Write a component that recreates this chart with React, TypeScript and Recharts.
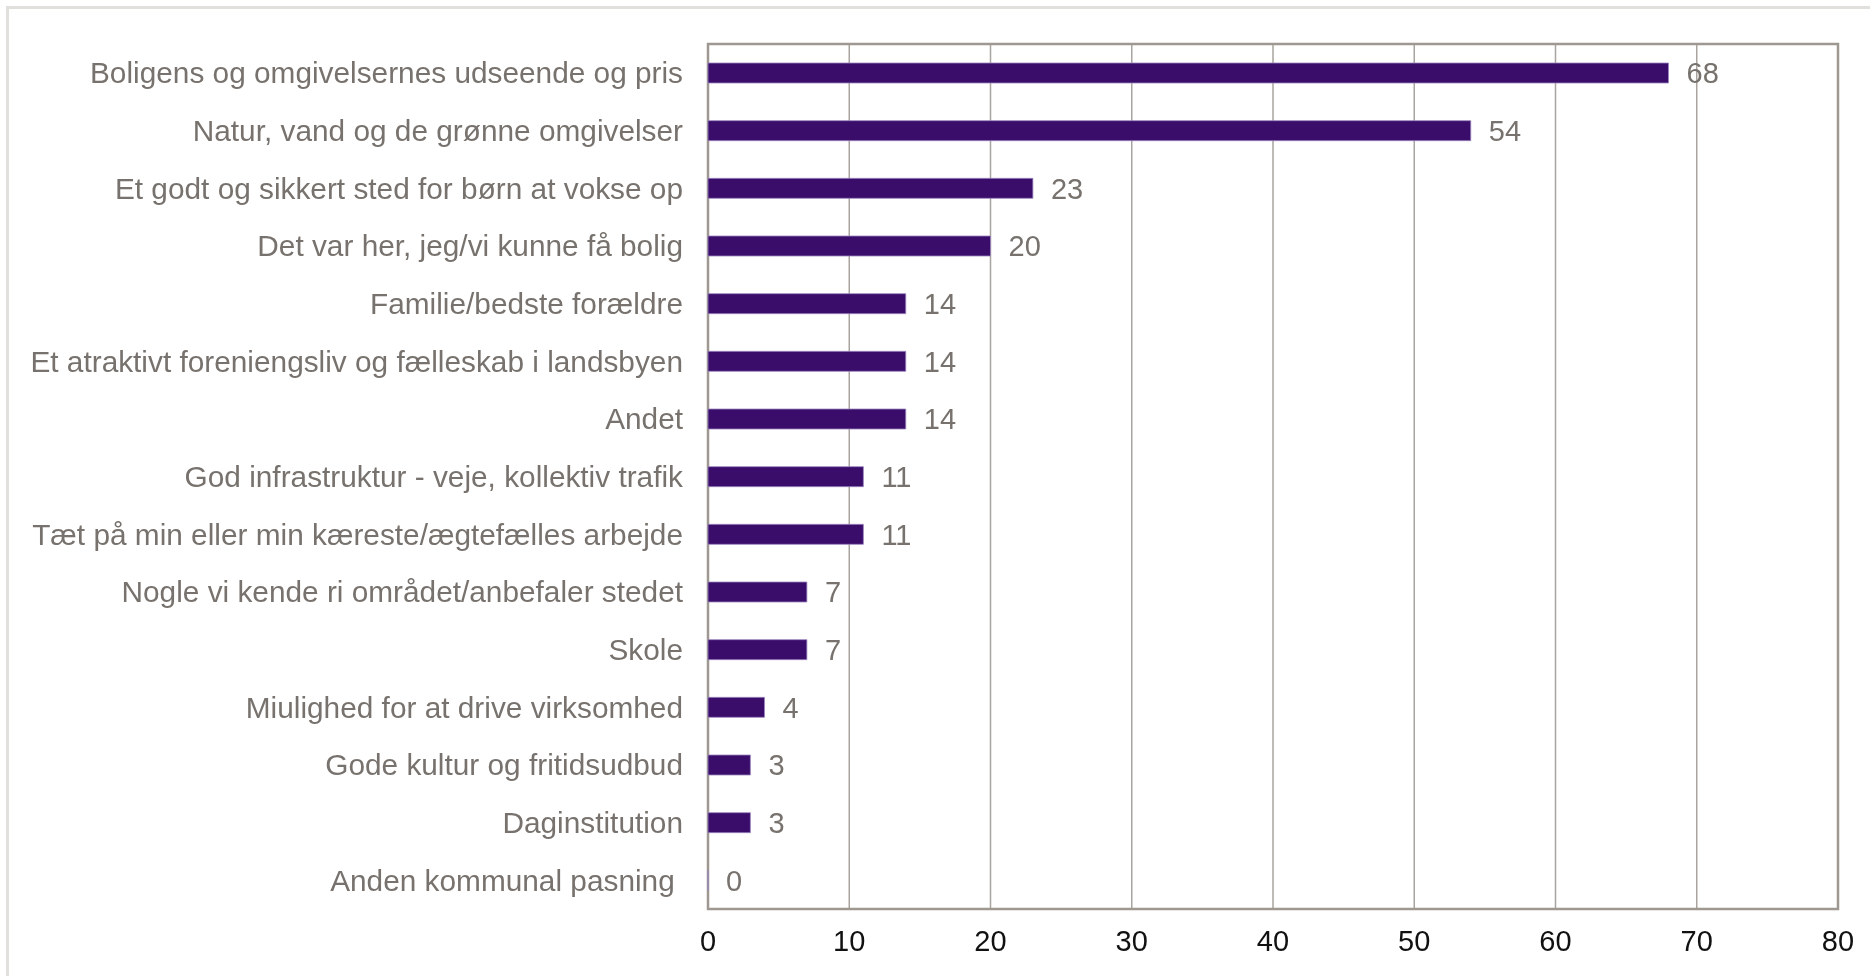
import React from "react";
import {
  BarChart,
  Bar,
  XAxis,
  YAxis,
  CartesianGrid,
  ReferenceArea,
  LabelList,
} from "recharts";

const categories = [
  "Boligens og omgivelsernes udseende og pris",
  "Natur, vand og de grønne omgivelser",
  "Et godt og sikkert sted for børn at vokse op",
  "Det var her, jeg/vi kunne få bolig",
  "Familie/bedste forældre",
  "Et atraktivt foreniengsliv og fælleskab i landsbyen",
  "Andet",
  "God infrastruktur - veje, kollektiv trafik",
  "Tæt på min eller min kæreste/ægtefælles arbejde",
  "Nogle vi kende ri området/anbefaler stedet",
  "Skole",
  "Miulighed for at drive virksomhed",
  "Gode kultur og fritidsudbud",
  "Daginstitution",
  "Anden kommunal pasning\u00A0",
];

const values = [68, 54, 23, 20, 14, 14, 14, 11, 11, 7, 7, 4, 3, 3, 0];

const xTicks = [0, 10, 20, 30, 40, 50, 60, 70, 80];

const data = categories.map((name, i) => ({ name, value: values[i] }));

const FONT = "'Liberation Sans', Arial, sans-serif";
const GRAY_TEXT = "#77726d";
const FRAME = "#e2e0dd";

export default function App() {
  return (
    <div style={{ position: "relative", width: 1859, height: 957, fontFamily: FONT }}>
      <div
        style={{
          position: "fixed",
          left: 6,
          top: 6,
          width: 1864,
          height: 3,
          background: FRAME,
        }}
      />
      <div
        style={{
          position: "fixed",
          left: 6,
          top: 6,
          width: 3,
          height: 970,
          background: FRAME,
        }}
      />
      <BarChart
        width={1859}
        height={957}
        data={data}
        layout="vertical"
        margin={{ top: 36, right: 29, bottom: 6, left: 0 }}
        barCategoryGap={0}
      >
        <CartesianGrid
          horizontal={false}
          vertical={true}
          stroke="#a9a49f"
          strokeWidth={1.5}
        />
        <ReferenceArea
          x1={0}
          x2={80}
          fill="none"
          stroke="#9e9891"
          strokeWidth={2.5}
          ifOverflow="visible"
        />
        <XAxis
          type="number"
          domain={[0, 80]}
          ticks={xTicks}
          interval={0}
          axisLine={false}
          tickLine={false}
          tickSize={6}
          tickMargin={15}
          height={50}
          tick={{ fill: "#111111", fontSize: 29, fontFamily: FONT }}
        />
        <YAxis
          type="category"
          dataKey="name"
          width={700}
          axisLine={false}
          tickLine={false}
          tickSize={0}
          tickMargin={25}
          interval={0}
          tick={{ fill: GRAY_TEXT, fontSize: 29.8, fontFamily: FONT }}
        />
        <Bar
          dataKey="value"
          fill="#3b0d6b"
          stroke="#9a85bf"
          strokeWidth={0.8}
          barSize={20}
          minPointSize={0.01}
          isAnimationActive={false}
        >
          <LabelList
            dataKey="value"
            position="right"
            offset={18}
            fill={GRAY_TEXT}
            fontSize={29}
            fontFamily={FONT}
          />
        </Bar>
      </BarChart>
    </div>
  );
}
